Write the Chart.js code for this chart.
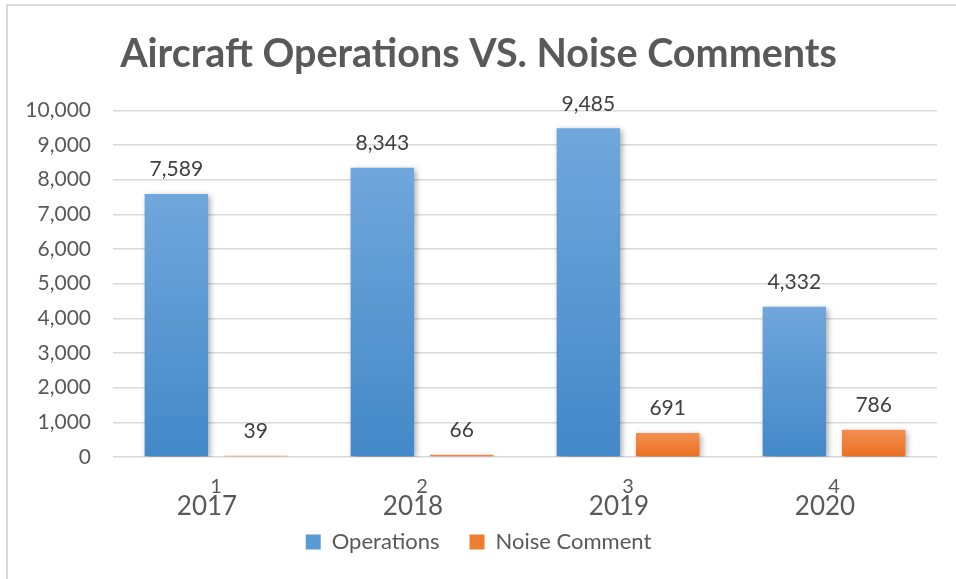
<!DOCTYPE html>
<html lang="en">
<head>
    <meta charset="UTF-8">
    <title>Aircraft Operations VS. Noise Comments</title>
    <script src="https://cdn.jsdelivr.net/npm/chart.js"></script>
    <style>
        body { margin: 0; background: #fff; }
        .moldura {
            position: absolute; left: 6px; top: 4px;
            width: 950px; height: 575px;
            border-left: 2px solid #d9d9d9; border-top: 2px solid #d9d9d9;
        }
    </style>
</head>
<body>
    <div class="moldura">
        <canvas id="grafico" width="948" height="573"></canvas>
    </div>
<script>
    var posicoes = ['1', '2', '3', '4'];
    var anos = ['2017', '2018', '2019', '2020'];
    var operacoes = [7589, 8343, 9485, 4332];
    var comentarios = [39, 66, 691, 786];
    var ticksY = [0, 1000, 2000, 3000, 4000, 5000, 6000, 7000, 8000, 9000, 10000];

    var fonte = 'Lato, "Open Sans", sans-serif';
    var cinza = '#595959';

    function degrade(topo, base) {
        return function (c) {
            var chart = c.chart;
            if (!chart.chartArea || c.parsed == null) return base;
            var y = chart.scales.y;
            var y0 = y.getPixelForValue(0);
            var y1 = y.getPixelForValue(c.parsed.y);
            if (!isFinite(y1) || y1 >= y0) return base;
            var g = chart.ctx.createLinearGradient(0, y1, 0, y0);
            g.addColorStop(0, topo);
            g.addColorStop(1, base);
            return g;
        };
    }

    // sombra das barras
    var sombra = {
        id: 'sombra',
        beforeDatasetsDraw(chart) {
            var ctx = chart.ctx;
            ctx.save();
            ctx.shadowColor = 'rgba(0,0,0,0.35)';
            ctx.shadowBlur = 6;
            ctx.shadowOffsetX = 2;
            ctx.shadowOffsetY = 2;
        },
        afterDatasetsDraw(chart) {
            chart.ctx.restore();
        }
    };

    // rotulos das barras e as duas linhas do eixo x (posicao + ano)
    var rotulos = {
        id: 'rotulos',
        afterDraw(chart) {
            var ctx = chart.ctx;
            ctx.save();
            ctx.font = '21px ' + fonte;
            ctx.fillStyle = '#404040';
            ctx.textAlign = 'center';
            ctx.textBaseline = 'bottom';
            chart.data.datasets.forEach((ds, i) => {
                chart.getDatasetMeta(i).data.forEach((barra, j) => {
                    ctx.fillText(ds.data[j].toLocaleString('en-US'), barra.x, barra.y - 14);
                });
            });

            var x = chart.scales.x;
            var base = chart.chartArea.bottom;
            ctx.fillStyle = cinza;
            ctx.textBaseline = 'middle';
            posicoes.forEach((p, i) => {
                var px = x.getPixelForValue(i);
                ctx.font = '20px ' + fonte;
                ctx.fillText(p, px, base + 30);
                ctx.font = '26px ' + fonte;
                ctx.fillText(anos[i], px - 9, base + 50);
            });
            ctx.restore();
        }
    };

    var grafico = new Chart(document.getElementById('grafico').getContext('2d'), {
        type: 'bar',
        data: {
            labels: posicoes,
            datasets: [{
                label: 'Operations',
                data: operacoes,
                backgroundColor: degrade('#70a7dc', '#4388c8'),
                legendColor: '#5b9bd5'
            }, {
                label: 'Noise Comment',
                data: comentarios,
                backgroundColor: degrade('#f28f51', '#eb6f1f'),
                legendColor: '#ed7d31'
            }]
        },
        options: {
            responsive: false,
            animation: false,
            categoryPercentage: 0.77,
            barPercentage: 0.8,
            layout: { padding: { left: 12, right: 19, top: 8, bottom: 16 } },
            plugins: {
                title: {
                    display: true,
                    text: 'Aircraft Operations VS. Noise Comments',
                    color: cinza,
                    font: { family: fonte, size: 39.5, weight: 'bold' },
                    padding: { top: 17, bottom: 32 }
                },
                legend: {
                    position: 'bottom',
                    labels: {
                        color: cinza,
                        font: { family: fonte, size: 22 },
                        boxWidth: 15,
                        boxHeight: 15,
                        padding: 30,
                        generateLabels(chart) {
                            return chart.data.datasets.map((ds, i) => ({
                                text: ds.label,
                                fillStyle: ds.legendColor,
                                strokeStyle: ds.legendColor,
                                lineWidth: 0,
                                fontColor: cinza,
                                datasetIndex: i
                            }));
                        }
                    }
                },
                tooltip: { enabled: false }
            },
            scales: {
                x: {
                    grid: { display: false },
                    border: { display: false },
                    ticks: { display: false },
                    afterFit(scale) { scale.height = 44; }
                },
                y: {
                    min: 0,
                    max: 10000,
                    afterBuildTicks(scale) {
                        scale.ticks = ticksY.map(v => ({ value: v }));
                    },
                    afterFit(scale) { scale.width = 93; },
                    grid: { color: '#d9d9d9', lineWidth: 1.5, drawTicks: false },
                    border: { display: false },
                    ticks: {
                        color: cinza,
                        font: { family: fonte, size: 21 },
                        padding: 22,
                        callback: v => v.toLocaleString('en-US')
                    }
                }
            }
        },
        plugins: [sombra, rotulos]
    });
</script>
</body>
</html>
